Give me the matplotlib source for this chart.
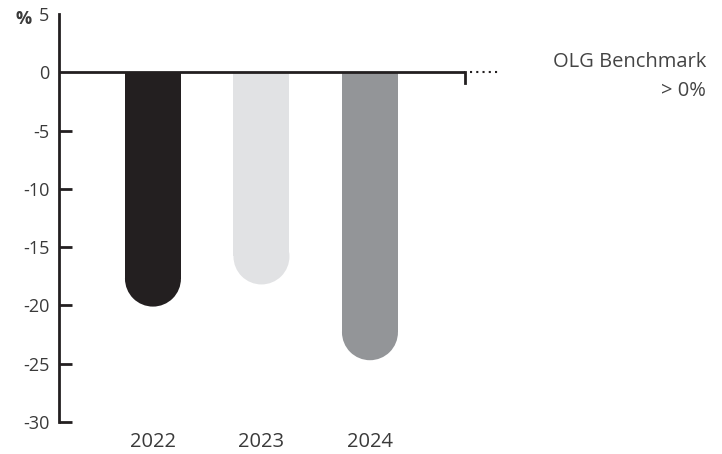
import matplotlib.pyplot as plt
from matplotlib.patches import Rectangle, Ellipse

years = ["2022", "2023", "2024"]
values = [-20.1, -18.2, -24.7]
colors = ["#231f20", "#e1e2e4", "#939598"]
yticks = [5, 0, -5, -10, -15, -20, -25, -30]
benchmark_label = "OLG Benchmark"
benchmark_value = "> 0%"

plt.rcParams['font.family'] = ['Open Sans', 'DejaVu Sans']
fig = plt.figure(figsize=(7.22, 4.54), dpi=100)
W, H = 722, 454
x0, x1 = 59, 465
y0, y1 = 14, 422
ax = fig.add_axes([x0 / W, 1 - y1 / H, (x1 - x0) / W, (y1 - y0) / H])

xmin, xmax = -0.866, 2.876
ax.set_xlim(xmin, xmax)
ax.set_ylim(-30, 5.0)

bw = 0.516
px_per_x = (x1 - x0) / (xmax - xmin)
px_per_y = (y1 - y0) / 35.0
r_px = bw / 2 * px_per_x
r_y = r_px / px_per_y

for i, (v, c) in enumerate(zip(values, colors)):
    end = v + r_y
    ax.add_patch(Rectangle((i - bw / 2, end), bw, -end, facecolor=c, edgecolor='none', zorder=2))
    ax.add_patch(Ellipse((i, end), bw, 2 * r_y, facecolor=c, edgecolor='none', zorder=2))

ax.axhline(0, color='#231f20', lw=2, zorder=3)
ax.plot([xmax, xmax], [0, -0.95], color='#231f20', lw=2, clip_on=False, zorder=3)
ax.plot([xmax + 0.05, xmax + 0.32], [0, 0], color='#231f20', lw=1.5, ls=(0, (1, 2)),
        clip_on=False, zorder=3)

for s in ['top', 'right', 'bottom']:
    ax.spines[s].set_visible(False)
ax.spines['left'].set_linewidth(2)
ax.spines['left'].set_color('#231f20')

ax.set_yticks(yticks)
ax.set_yticklabels([str(t) for t in yticks])
ax.tick_params(axis='y', direction='in', length=9, width=2, color='#231f20',
               labelsize=13, labelcolor='#3a3a3a', pad=7)
for t in ax.yaxis.get_major_ticks():
    if t.label1.get_text() in ('5', '0'):
        t.tick1line.set_visible(False)
ax.set_xticks(range(len(years)))
ax.set_xticklabels(years)
ax.tick_params(axis='x', length=0, labelsize=14.5, labelcolor='#3a3a3a', pad=7)

fig.text(15 / W, 1 - 19 / H, '%', fontsize=13, fontweight='bold', color='#3a3a3a',
         ha='left', va='center')
fig.text(706 / W, 1 - 62 / H, benchmark_label, fontsize=14.5, color='#444444', ha='right', va='center')
fig.text(706 / W, 1 - 91 / H, benchmark_value, fontsize=14.5, color='#444444', ha='right', va='center')

fig.savefig('out.png', dpi=100)
